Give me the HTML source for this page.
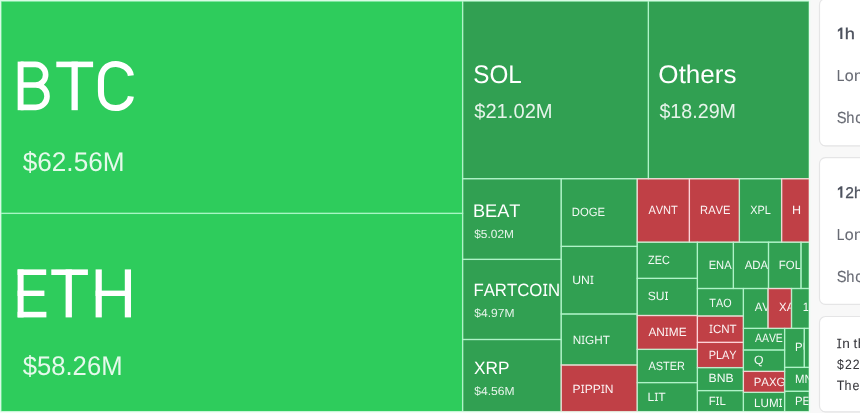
<!DOCTYPE html>
<html><head><meta charset="utf-8"><title>Liquidation heatmap</title>
<style>
html,body{margin:0;padding:0;}
body{width:860px;height:413px;overflow:hidden;background:#f8f8f8;position:relative;font-family:"Liberation Sans",sans-serif;}
.tm{position:absolute;left:0;top:0;display:block;will-change:transform;}
</style></head><body>
<svg class="tm" width="860" height="413" viewBox="0 0 860 413" font-family="Liberation Sans, sans-serif" fill="#fff" font-kerning="none" text-rendering="geometricPrecision" style="font-kerning:none">
<rect x="0" y="0" width="810.3" height="413" fill="#d6fbe3"/>
<rect x="1.0" y="1.1" width="461.6" height="212.3" fill="#2ecc5c"/>
<rect x="1.0" y="213.4" width="461.6" height="198.2" fill="#2ecc5c"/>
<rect x="462.6" y="1.1" width="185.8" height="177.6" fill="#31a052"/>
<rect x="648.4" y="1.1" width="160.8" height="177.6" fill="#31a052"/>
<rect x="462.6" y="178.7" width="98.6" height="80.7" fill="#31a052"/>
<rect x="462.6" y="259.4" width="98.6" height="80.1" fill="#31a052"/>
<rect x="462.6" y="339.5" width="98.6" height="72.1" fill="#31a052"/>
<rect x="561.2" y="178.7" width="76.0" height="67.7" fill="#31a052"/>
<rect x="561.2" y="246.4" width="76.0" height="67.6" fill="#31a052"/>
<rect x="561.2" y="314.0" width="76.0" height="51.0" fill="#31a052"/>
<rect x="561.2" y="365.0" width="76.0" height="46.6" fill="#c04046"/>
<rect x="637.2" y="178.7" width="52.2" height="63.5" fill="#c04046"/>
<rect x="689.4" y="178.7" width="50.0" height="63.5" fill="#c04046"/>
<rect x="739.4" y="178.7" width="42.2" height="63.5" fill="#31a052"/>
<rect x="781.6" y="178.7" width="27.6" height="63.5" fill="#c04046"/>
<rect x="637.2" y="242.2" width="60.2" height="36.2" fill="#31a052"/>
<rect x="637.2" y="278.4" width="60.2" height="37.1" fill="#31a052"/>
<rect x="637.2" y="315.5" width="60.2" height="33.9" fill="#c04046"/>
<rect x="637.2" y="349.4" width="60.2" height="33.2" fill="#31a052"/>
<rect x="637.2" y="382.6" width="60.2" height="29.0" fill="#31a052"/>
<rect x="697.4" y="242.2" width="36.0" height="46.3" fill="#31a052"/>
<rect x="733.4" y="242.2" width="35.1" height="46.3" fill="#31a052"/>
<rect x="768.5" y="242.2" width="32.5" height="46.3" fill="#31a052"/>
<rect x="801.0" y="242.2" width="8.2" height="46.3" fill="#31a052"/>
<rect x="697.4" y="288.5" width="46.0" height="27.5" fill="#31a052"/>
<rect x="697.4" y="316.0" width="46.0" height="26.4" fill="#c04046"/>
<rect x="697.4" y="342.4" width="46.0" height="25.2" fill="#c04046"/>
<rect x="697.4" y="367.6" width="46.0" height="23.0" fill="#31a052"/>
<rect x="697.4" y="390.6" width="46.0" height="21.0" fill="#31a052"/>
<rect x="743.4" y="288.5" width="24.6" height="39.9" fill="#31a052"/>
<rect x="768.0" y="288.5" width="23.5" height="39.9" fill="#c04046"/>
<rect x="791.5" y="288.5" width="17.7" height="39.9" fill="#31a052"/>
<rect x="743.4" y="328.4" width="41.2" height="21.6" fill="#31a052"/>
<rect x="743.4" y="350.0" width="41.2" height="21.4" fill="#31a052"/>
<rect x="743.4" y="371.4" width="41.2" height="21.0" fill="#c04046"/>
<rect x="743.4" y="392.4" width="41.2" height="19.2" fill="#31a052"/>
<rect x="784.6" y="328.4" width="19.7" height="39.0" fill="#31a052"/>
<rect x="804.3" y="328.4" width="4.9" height="39.0" fill="#31a052"/>
<rect x="784.6" y="367.4" width="24.6" height="23.9" fill="#31a052"/>
<rect x="784.6" y="391.3" width="24.6" height="20.3" fill="#31a052"/>
<svg x="0" y="0" width="809.2" height="411.6"><g fill="none" stroke-width="1.25" stroke-opacity="0.82">
<rect x="1.0" y="1.1" width="461.6" height="212.3" stroke="#aaf6c6"/>
<rect x="1.0" y="213.4" width="461.6" height="198.2" stroke="#aaf6c6"/>
<rect x="462.6" y="1.1" width="185.8" height="177.6" stroke="#b2f5cb"/>
<rect x="648.4" y="1.1" width="160.8" height="177.6" stroke="#b2f5cb"/>
<rect x="462.6" y="178.7" width="98.6" height="80.7" stroke="#b2f5cb"/>
<rect x="462.6" y="259.4" width="98.6" height="80.1" stroke="#b2f5cb"/>
<rect x="462.6" y="339.5" width="98.6" height="72.1" stroke="#b2f5cb"/>
<rect x="561.2" y="178.7" width="76.0" height="67.7" stroke="#b2f5cb"/>
<rect x="561.2" y="246.4" width="76.0" height="67.6" stroke="#b2f5cb"/>
<rect x="561.2" y="314.0" width="76.0" height="51.0" stroke="#b2f5cb"/>
<rect x="561.2" y="365.0" width="76.0" height="46.6" stroke="#ffd6da"/>
<rect x="637.2" y="178.7" width="52.2" height="63.5" stroke="#ffd6da"/>
<rect x="689.4" y="178.7" width="50.0" height="63.5" stroke="#ffd6da"/>
<rect x="739.4" y="178.7" width="42.2" height="63.5" stroke="#b2f5cb"/>
<rect x="781.6" y="178.7" width="27.6" height="63.5" stroke="#ffd6da"/>
<rect x="637.2" y="242.2" width="60.2" height="36.2" stroke="#b2f5cb"/>
<rect x="637.2" y="278.4" width="60.2" height="37.1" stroke="#b2f5cb"/>
<rect x="637.2" y="315.5" width="60.2" height="33.9" stroke="#ffd6da"/>
<rect x="637.2" y="349.4" width="60.2" height="33.2" stroke="#b2f5cb"/>
<rect x="637.2" y="382.6" width="60.2" height="29.0" stroke="#b2f5cb"/>
<rect x="697.4" y="242.2" width="36.0" height="46.3" stroke="#b2f5cb"/>
<rect x="733.4" y="242.2" width="35.1" height="46.3" stroke="#b2f5cb"/>
<rect x="768.5" y="242.2" width="32.5" height="46.3" stroke="#b2f5cb"/>
<rect x="801.0" y="242.2" width="8.2" height="46.3" stroke="#b2f5cb"/>
<rect x="697.4" y="288.5" width="46.0" height="27.5" stroke="#b2f5cb"/>
<rect x="697.4" y="316.0" width="46.0" height="26.4" stroke="#ffd6da"/>
<rect x="697.4" y="342.4" width="46.0" height="25.2" stroke="#ffd6da"/>
<rect x="697.4" y="367.6" width="46.0" height="23.0" stroke="#b2f5cb"/>
<rect x="697.4" y="390.6" width="46.0" height="21.0" stroke="#b2f5cb"/>
<rect x="743.4" y="288.5" width="24.6" height="39.9" stroke="#b2f5cb"/>
<rect x="768.0" y="288.5" width="23.5" height="39.9" stroke="#ffd6da"/>
<rect x="791.5" y="288.5" width="17.7" height="39.9" stroke="#b2f5cb"/>
<rect x="743.4" y="328.4" width="41.2" height="21.6" stroke="#b2f5cb"/>
<rect x="743.4" y="350.0" width="41.2" height="21.4" stroke="#b2f5cb"/>
<rect x="743.4" y="371.4" width="41.2" height="21.0" stroke="#ffd6da"/>
<rect x="743.4" y="392.4" width="41.2" height="19.2" stroke="#b2f5cb"/>
<rect x="784.6" y="328.4" width="19.7" height="39.0" stroke="#b2f5cb"/>
<rect x="804.3" y="328.4" width="4.9" height="39.0" stroke="#b2f5cb"/>
<rect x="784.6" y="367.4" width="24.6" height="23.9" stroke="#b2f5cb"/>
<rect x="784.6" y="391.3" width="24.6" height="20.3" stroke="#b2f5cb"/>
</g></svg>
<path d="M0,0H810.3V413H0Z M1.0,1.05V411.6H809.2V1.05Z" fill="#d8fbe4" fill-rule="evenodd"/>
<rect x="809.2" y="0" width="1.1" height="413" fill="#f0fdf4"/>
<rect x="0" y="411.6" width="810.3" height="1.4" fill="#f3fdf6"/>
<rect x="17.6" y="269.4" width="6" height="48.0"/>
<rect x="17.6" y="269.4" width="28.6" height="5.6"/>
<rect x="17.6" y="290.6" width="26.8" height="5.4"/>
<rect x="17.6" y="311.79999999999995" width="28.8" height="5.6"/>
<rect x="51.3" y="269.4" width="36.6" height="5.6"/>
<rect x="65.6" y="269.4" width="6.3" height="48.0"/>
<rect x="95.6" y="269.4" width="6.2" height="48.0"/>
<rect x="124.8" y="269.4" width="6.2" height="48.0"/>
<rect x="95.6" y="290.6" width="35" height="5.4"/>
<rect x="56.3" y="61.6" width="36.8" height="5.6"/>
<rect x="71.5" y="61.6" width="6.3" height="48.6"/>
<path fill="none" stroke="#fff" stroke-width="5.9" stroke-linejoin="miter" d="M20.6,110.2 V61.6"/>
<path fill="none" stroke="#fff" stroke-width="5.6" d="M20.6,64.4 H35.35 A10.30,10.30 0 0 1 35.35,85.0 H20.6 M35.35,85.0 H35.85 A11.20,11.20 0 0 1 35.85,107.4 H20.6"/>
<path fill="none" stroke="#fff" stroke-width="6.1" d="M130.85,75.6 C130.05,68.5 121.90,63.95 115.90,63.95 C106.40,63.95 100.95,70.5 100.95,80.5 V91.5 C100.95,101.5 106.40,108.05 115.90,108.05 C121.90,108.05 130.05,103.5 130.85,96.4"/>
<g transform="translate(22.72,171.00) scale(0.9691,1)" fill-opacity="0.88"><text x="0.00 15.02 30.03 45.05 52.55 67.57 82.58" y="0" font-size="27">$62.56M</text></g>
<g transform="translate(22.72,375.00) scale(0.9496,1)" fill-opacity="0.88"><text x="0.00 15.02 30.03 45.05 52.55 67.57 82.58" y="0" font-size="27">$58.26M</text></g>
<g transform="translate(473.30,83.00) scale(0.9506,1)" ><text x="0.00 17.01 36.84" y="0" font-size="25.5">SOL</text></g>
<g transform="translate(474.18,118.00) scale(0.9933,1)" fill-opacity="0.88"><text x="0.00 11.29 22.58 33.87 39.51 50.80 62.09" y="0" font-size="20.3">$21.02M</text></g>
<g transform="translate(658.37,83.00) scale(1.0216,1)" ><text x="0.00 19.83 26.92 41.10 55.28 63.77" y="0" font-size="25.5">Others</text></g>
<g transform="translate(659.39,118.00) scale(0.9700,1)" fill-opacity="0.88"><text x="0.00 11.29 22.58 33.87 39.51 50.80 62.09" y="0" font-size="20.3">$18.29M</text></g>
<g transform="translate(472.91,217.00) scale(0.9940,1)" ><text x="0.00 12.21 24.41 36.62" y="0" font-size="18.3">BEAT</text></g>
<g transform="translate(474.27,238.00) scale(1.0088,1)" fill-opacity="0.88"><text x="0.00 6.56 13.13 16.40 22.97 29.53" y="0" font-size="11.8">$5.02M</text></g>
<g transform="translate(473.42,296.00) scale(0.9430,1)" ><text x="0.00 10.87 22.75 35.60 46.47 59.33 79.14" y="0" font-size="17.8">FARTCON</text><path d="M73.97,-12.25h4.36v1.39h-1.40v9.47h1.40v1.39h-4.36v-1.39h1.40v-9.47h-1.40z"/></g>
<g transform="translate(474.27,317.00) scale(1.0219,1)" fill-opacity="0.88"><text x="0.00 6.56 13.13 16.40 22.97 29.53" y="0" font-size="11.8">$4.97M</text></g>
<g transform="translate(474.01,374.00) scale(0.9699,1)" ><text x="0.00 11.87 24.73" y="0" font-size="17.8">XRP</text></g>
<g transform="translate(474.27,395.00) scale(1.0245,1)" fill-opacity="0.88"><text x="0.00 6.56 13.13 16.40 22.97 29.53" y="0" font-size="11.8">$4.56M</text></g>
<svg x="561.2" y="178.7" width="75.3" height="67.7"><g transform="translate(10.67,37.30) scale(0.9398,1)" fill-opacity="0.94"><text x="0.00 8.67 18.00 27.33" y="0" font-size="12.0">DOGE</text></g></svg>
<svg x="561.2" y="246.4" width="75.3" height="67.6"><g transform="translate(11.06,37.60) scale(1.0158,1)" fill-opacity="0.94"><text x="0.00 8.67" y="0" font-size="12.0">UN</text><path d="M17.87,-8.26h2.94v0.94h-0.94v6.38h0.94v0.94h-2.94v-0.94h0.94v-6.38h-0.94z"/></g></svg>
<svg x="561.2" y="314.0" width="75.3" height="51.0"><g transform="translate(11.44,30.00) scale(0.9794,1)" fill-opacity="0.94"><text x="0.00 12.69 22.02 30.69" y="0" font-size="12.0">NGHT</text><path d="M9.21,-8.26h2.94v0.94h-0.94v6.38h0.94v0.94h-2.94v-0.94h0.94v-6.38h-0.94z"/></g></svg>
<svg x="561.2" y="365.0" width="75.3" height="46.6"><g transform="translate(11.41,28.00) scale(1.0063,1)" fill-opacity="0.94"><text x="0.00 12.02 20.03 32.05" y="0" font-size="12.0">PPPN</text><path d="M8.54,-8.26h2.94v0.94h-0.94v6.38h0.94v0.94h-2.94v-0.94h0.94v-6.38h-0.94z"/><path d="M28.57,-8.26h2.94v0.94h-0.94v6.38h0.94v0.94h-2.94v-0.94h0.94v-6.38h-0.94z"/></g></svg>
<svg x="637.2" y="178.7" width="51.5" height="63.5"><g transform="translate(11.18,35.30) scale(0.9210,1)" fill-opacity="0.94"><text x="0.00 8.00 16.01 24.67" y="0" font-size="12.0">AVNT</text></g></svg>
<svg x="689.4" y="178.7" width="49.3" height="63.5"><g transform="translate(10.68,35.30) scale(0.9302,1)" fill-opacity="0.94"><text x="0.00 8.67 16.67 24.67" y="0" font-size="12.0">RAVE</text></g></svg>
<svg x="739.4" y="178.7" width="41.5" height="63.5"><g transform="translate(10.76,35.30) scale(0.9085,1)" fill-opacity="0.94"><text x="0.00 8.00 16.01" y="0" font-size="12.0">XPL</text></g></svg>
<svg x="781.6" y="178.7" width="26.9" height="63.5"><g transform="translate(10.37,35.30) scale(1.0443,1)" fill-opacity="0.94"><text x="0.00" y="0" font-size="12.0">H</text></g></svg>
<svg x="637.2" y="242.2" width="59.5" height="36.2"><g transform="translate(10.85,21.80) scale(0.9067,1)" fill-opacity="0.94"><text x="0.00 7.33 15.33" y="0" font-size="12.0">ZEC</text></g></svg>
<svg x="637.2" y="278.4" width="59.5" height="37.1"><g transform="translate(10.66,21.60) scale(0.9997,1)" fill-opacity="0.94"><text x="0.00 8.00" y="0" font-size="12.0">SU</text><path d="M17.21,-8.26h2.94v0.94h-0.94v6.38h0.94v0.94h-2.94v-0.94h0.94v-6.38h-0.94z"/></g></svg>
<svg x="637.2" y="315.5" width="59.5" height="33.9"><g transform="translate(11.18,20.50) scale(0.9856,1)" fill-opacity="0.94"><text x="0.00 8.00 20.69 30.69" y="0" font-size="12.0">ANME</text><path d="M17.21,-8.26h2.94v0.94h-0.94v6.38h0.94v0.94h-2.94v-0.94h0.94v-6.38h-0.94z"/></g></svg>
<svg x="637.2" y="349.4" width="59.5" height="33.2"><g transform="translate(11.18,20.60) scale(0.9131,1)" fill-opacity="0.94"><text x="0.00 8.00 16.01 23.34 31.34" y="0" font-size="12.0">ASTER</text></g></svg>
<svg x="637.2" y="382.6" width="59.5" height="29.0"><g transform="translate(10.41,18.40) scale(1.0021,1)" fill-opacity="0.94"><text x="0.00 10.69" y="0" font-size="12.0">LT</text><path d="M7.21,-8.26h2.94v0.94h-0.94v6.38h0.94v0.94h-2.94v-0.94h0.94v-6.38h-0.94z"/></g></svg>
<svg x="697.4" y="242.2" width="35.3" height="46.3"><g transform="translate(11.28,26.80) scale(0.9296,1)" fill-opacity="0.94"><text x="0.00 8.00 16.67" y="0" font-size="12.0">ENA</text></g></svg>
<svg x="733.4" y="242.2" width="34.4" height="46.3"><g transform="translate(11.28,26.80) scale(0.9500,1)" fill-opacity="0.94"><text x="0.00 8.00 16.67" y="0" font-size="12.0">ADA</text></g></svg>
<svg x="768.5" y="242.2" width="31.8" height="46.3"><g transform="translate(10.36,26.80) scale(0.9500,1)" fill-opacity="0.94"><text x="0.00 7.33 16.66 23.34 31.34" y="0" font-size="12.0">FOLKS</text></g></svg>
<svg x="697.4" y="288.5" width="45.3" height="27.5"><g transform="translate(11.96,18.50) scale(0.8982,1)" fill-opacity="0.94"><text x="0.00 7.33 15.33" y="0" font-size="12.0">TAO</text></g></svg>
<svg x="697.4" y="316.0" width="45.3" height="26.4"><g transform="translate(11.68,17.00) scale(0.9617,1)" fill-opacity="0.94"><text x="4.02 12.69 21.35" y="0" font-size="12.0">CNT</text><path d="M0.54,-8.26h2.94v0.94h-0.94v6.38h0.94v0.94h-2.94v-0.94h0.94v-6.38h-0.94z"/></g></svg>
<svg x="697.4" y="342.4" width="45.3" height="25.2"><g transform="translate(11.30,16.60) scale(0.9104,1)" fill-opacity="0.94"><text x="0.00 8.00 14.68 22.68" y="0" font-size="12.0">PLAY</text></g></svg>
<svg x="697.4" y="367.6" width="45.3" height="23.0"><g transform="translate(11.20,14.40) scale(1.0149,1)" fill-opacity="0.94"><text x="0.00 8.00 16.67" y="0" font-size="12.0">BNB</text></g></svg>
<svg x="697.4" y="390.6" width="45.3" height="21.0"><g transform="translate(11.27,14.40) scale(0.9495,1)" fill-opacity="0.94"><text x="0.00 11.35" y="0" font-size="12.0">FL</text><path d="M7.87,-8.26h2.94v0.94h-0.94v6.38h0.94v0.94h-2.94v-0.94h0.94v-6.38h-0.94z"/></g></svg>
<svg x="743.4" y="288.5" width="23.9" height="39.9"><g transform="translate(11.28,22.50) scale(0.9500,1)" fill-opacity="0.94"><text x="0.00 8.00 16.01 24.01" y="0" font-size="12.0">AVAX</text></g></svg>
<svg x="768.0" y="288.5" width="22.8" height="39.9"><g transform="translate(11.04,22.50) scale(0.9500,1)" fill-opacity="0.94"><text x="0.00 8.00 16.01 24.67" y="0" font-size="12.0">XAUT</text></g></svg>
<svg x="791.5" y="288.5" width="17.0" height="39.9"><g transform="translate(11.23,22.50) scale(0.9500,1)" fill-opacity="0.94"><text x="0.00 6.67 13.35 20.02 26.70 34.70 42.70 50.71" y="0" font-size="12.0">1000PEPE</text></g></svg>
<svg x="743.4" y="328.4" width="40.5" height="21.6"><g transform="translate(11.58,13.60) scale(0.8705,1)" fill-opacity="0.94"><text x="0.00 8.00 16.01 24.01" y="0" font-size="12.0">AAVE</text></g></svg>
<svg x="743.4" y="350.0" width="40.5" height="21.4"><g transform="translate(10.62,14.00) scale(1.0255,1)" fill-opacity="0.94"><text x="0.00" y="0" font-size="12.0">Q</text></g></svg>
<svg x="743.4" y="371.4" width="40.5" height="21.0"><g transform="translate(10.36,14.60) scale(0.9500,1)" fill-opacity="0.94"><text x="0.00 8.00 16.01 24.01" y="0" font-size="12.0">PAXG</text></g></svg>
<svg x="743.4" y="392.4" width="40.5" height="19.2"><g transform="translate(10.65,14.60) scale(0.9701,1)" fill-opacity="0.94"><text x="0.00 6.67 15.34" y="0" font-size="12.0">LUM</text><path d="M25.88,-8.26h2.94v0.94h-0.94v6.38h0.94v0.94h-2.94v-0.94h0.94v-6.38h-0.94z"/></g></svg>
<svg x="784.6" y="328.4" width="19.0" height="39.0"><g transform="translate(10.36,22.60) scale(0.9500,1)" fill-opacity="0.94"><text x="0.00 8.00 16.67 26.67" y="0" font-size="12.0">PUMP</text></g></svg>
<svg x="784.6" y="367.4" width="23.9" height="23.9"><g transform="translate(10.36,15.60) scale(0.9500,1)" fill-opacity="0.94"><text x="0.00 10.00 18.66" y="0" font-size="12.0">MNT</text></g></svg>
<svg x="784.6" y="391.3" width="23.9" height="20.3"><g transform="translate(10.36,13.70) scale(0.9500,1)" fill-opacity="0.94"><text x="0.00 8.00 16.01 24.67 34.01" y="0" font-size="12.0">PENGU</text></g></svg>
<rect x="810.3" y="0" width="50" height="413" fill="#f8f8f8"/>
<rect x="819.5" y="-0.7000000000000001" width="60" height="147.10000000000002" rx="6" fill="#000" fill-opacity="0.035"/>
<rect x="819.5" y="-1.3" width="60" height="147.10000000000002" rx="6" fill="#fff" stroke="#e5e5e6" stroke-width="1.15"/>
<rect x="819.5" y="158.2" width="60" height="146.79999999999998" rx="6" fill="#000" fill-opacity="0.035"/>
<rect x="819.5" y="157.6" width="60" height="146.79999999999998" rx="6" fill="#fff" stroke="#e5e5e6" stroke-width="1.15"/>
<rect x="819.5" y="317.1" width="60" height="95.30000000000001" rx="6" fill="#000" fill-opacity="0.035"/>
<rect x="819.5" y="316.5" width="60" height="95.30000000000001" rx="6" fill="#fff" stroke="#e5e5e6" stroke-width="1.15"/>
<path fill="#4d525e" d="M842.40,27.60V38.90H840.30V30.30L837.85,31.90V29.80L840.80,27.60Z"/>
<text x="722.08" y="38.90" font-size="15.6" fill="#4d525e" stroke="#4d525e" stroke-width="0.3" transform="scale(1.17,1)">h</text>
<text x="973.05" y="80.80" font-size="16.0" fill="#686b74" stroke="#686b74" stroke-width="0.12" transform="scale(0.86,1)">L</text>
<text x="844.63 854.04" y="80.80" font-size="16.0" fill="#686b74" stroke="#686b74" stroke-width="0.12">on</text>
<text x="909.60 919.87 929.76" y="122.60" font-size="16.0" fill="#686b74" stroke="#686b74" stroke-width="0.12" transform="scale(0.92,1)">Sho</text>
<path fill="#4d525e" d="M842.40,186.20V197.70H840.30V188.90L837.85,190.50V188.40L840.80,186.20Z"/>
<text x="845.32 854.02" y="197.70" font-size="15.6" fill="#4d525e" stroke="#4d525e" stroke-width="0.3">2h</text>
<text x="973.05" y="239.70" font-size="16.0" fill="#686b74" stroke="#686b74" stroke-width="0.12" transform="scale(0.86,1)">L</text>
<text x="844.63 854.04" y="239.70" font-size="16.0" fill="#686b74" stroke="#686b74" stroke-width="0.12">on</text>
<text x="909.60 919.87 929.76" y="281.50" font-size="16.0" fill="#686b74" stroke="#686b74" stroke-width="0.12" transform="scale(0.92,1)">Sho</text>
<text x="842.20 853.39 857.86" y="348.40" font-size="13.6" fill="#38383d" stroke="#38383d" stroke-width="0.06">nth</text>
<text x="929.97 938.98 947.43" y="369.00" font-size="13.6" fill="#38383d" stroke="#38383d" stroke-width="0.06" transform="scale(0.9,1)">$22</text>
<text x="909.48 917.97 926.60" y="390.20" font-size="13.6" fill="#38383d" stroke="#38383d" stroke-width="0.06" transform="scale(0.92,1)">The</text>
<path fill="#38383d" d="M837.1,338.8h4.2v1h-1.5v7.4h1.5v1h-4.2v-1h1.5v-7.4h-1.5z"/>
</svg>
</body></html>
